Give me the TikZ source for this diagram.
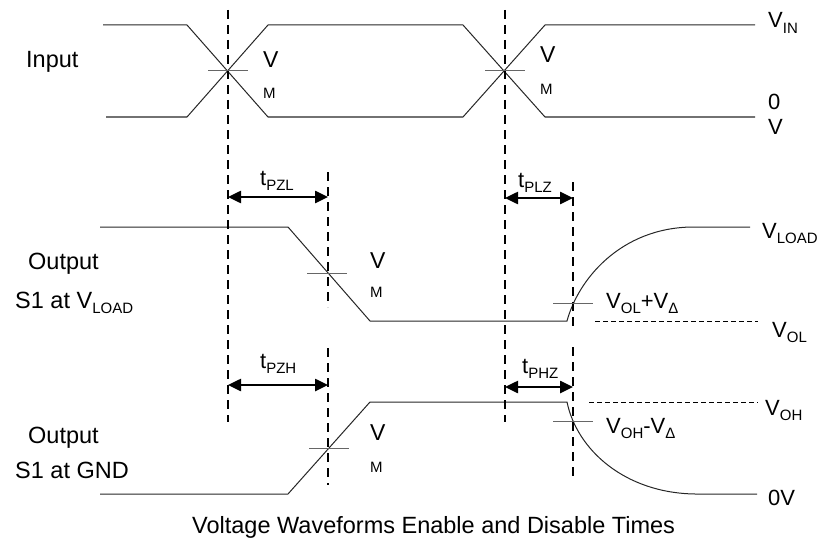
\documentclass[tikz,border=0pt]{standalone}
\usepackage{fontspec}
\setmainfont{Liberation Sans}
\usetikzlibrary{arrows.meta}
\newcommand{\sbs}[1]{\raisebox{-0.25em}{\fontsize{15}{15}\selectfont #1}}
\begin{document}
\begin{tikzpicture}[x=1pt,y=-1pt,
  wave/.style={line width=1pt, draw=black!85},
  vdash/.style={line width=1.2pt, dash pattern=on 9pt off 6pt},
  refdash/.style={line width=1pt, dash pattern=on 5pt off 3pt},
  tickmark/.style={line width=1pt, draw=black!60},
  timearrow/.style={line width=2.5pt, {Triangle[length=13pt,width=12pt]}-{Triangle[length=13pt,width=12pt]}},
  lbl/.style={inner sep=0pt, anchor=base west, font=\fontsize{23.5}{27}\selectfont},
  rlbl/.style={inner sep=0pt, anchor=base west, font=\fontsize{22}{26}\selectfont},
  vbig/.style={inner sep=0pt, anchor=base west, font=\fontsize{23}{27}\selectfont},
  msmall/.style={inner sep=0pt, anchor=base west, font=\fontsize{15}{18}\selectfont}]
\useasboundingbox (0,0) rectangle (820,543);

% Input waveform
\draw[wave] (103,25) -- (187,25) -- (268,117) -- (463,117) -- (545,25) -- (755,25);
\draw[wave] (106,117) -- (187,117) -- (268,25) -- (463,25) -- (545,117) -- (755,117);

% Output S1 at VLOAD
\draw[wave] (100,227) -- (288,227) -- (370,321) -- (567,321)
  .. controls (578,280) and (620,228) .. (692,227) -- (750,227);
% Output S1 at GND
\draw[wave] (100,494) -- (288,494) -- (370,402) -- (567,402)
  .. controls (577,450) and (625,493) .. (695,494) -- (757,494);

% dashed verticals
\draw[vdash] (228,10) -- (228,422);
\draw[vdash] (505,10) -- (505,422);
\draw[vdash] (328,172) -- (328,307);
\draw[vdash] (328,348) -- (328,485);
\draw[vdash] (573,182) -- (573,327);
\draw[vdash] (573,347) -- (573,480);

% reference levels
\draw[refdash] (595,321) -- (758,321);
\draw[refdash] (589,402) -- (758,402);

% tick marks
\draw[tickmark] (208,71) -- (248,71);
\draw[tickmark] (485,71) -- (525,71);
\draw[tickmark] (307,273) -- (347,273);
\draw[tickmark] (309,448) -- (349,448);
\draw[tickmark] (553,303) -- (593,303);
\draw[tickmark] (553,421) -- (593,421);

% timing arrows
\coordinate (pzlA) at (228,197); \coordinate (pzlB) at (328,197);
\coordinate (plzA) at (505,198); \coordinate (plzB) at (573,198);
\coordinate (pzhA) at (228,385); \coordinate (pzhB) at (328,385);
\coordinate (phzA) at (505,387); \coordinate (phzB) at (573,387);
\draw[timearrow] (pzlA) -- (pzlB);
\draw[timearrow] (plzA) -- (plzB);
\draw[timearrow] (pzhA) -- (pzhB);
\draw[timearrow] (phzA) -- (phzB);

% labels
\node[lbl] (input) at (26,67) {Input};
\node[lbl] (out1) at (28,269) {Output};
\node[lbl] (s1load) at (15,308) {S1 at V\sbs{LOAD}};
\node[lbl] (out2) at (28,443) {Output};
\node[lbl] (s1gnd) at (15,478) {S1 at GND};

\node[vbig] (v1) at (263,68) {V};
\node[msmall] (m1) at (263,99) {M};
\node[vbig] (v2) at (540,63) {V};
\node[msmall] (m2) at (540,95) {M};
\node[vbig] (v3) at (370,268) {V};
\node[msmall] (m3) at (370,297) {M};
\node[vbig] (v4) at (370,440) {V};
\node[msmall] (m4) at (370,472) {M};

\node[rlbl] (tpzl) at (260,185) {t\sbs{PZL}};
\node[rlbl] (tplz) at (518,187) {t\sbs{PLZ}};
\node[rlbl] (tpzh) at (260,368) {t\sbs{PZH}};
\node[rlbl] (tphz) at (522,373) {t\sbs{PHZ}};

\node[rlbl] (vin) at (768,28) {V\sbs{IN}};
\node[rlbl] (zero) at (768,110) {0};
\node[rlbl] (zerov) at (768,135) {V};
\node[rlbl] (vload) at (762,238) {V\sbs{LOAD}};
\node[rlbl] (vol) at (772,337) {V\sbs{OL}};
\node[rlbl] (volpd) at (606,308) {V\sbs{OL}+V\sbs{Δ}};
\node[rlbl] (voh) at (765,415) {V\sbs{OH}};
\node[rlbl] (vohmd) at (606,433) {V\sbs{OH}-V\sbs{Δ}};
\node[rlbl] (zerovolt) at (768,505) {0V};

\node[lbl] (caption) at (192,533) {Voltage Waveforms Enable and Disable Times};
\end{tikzpicture}
\end{document}
